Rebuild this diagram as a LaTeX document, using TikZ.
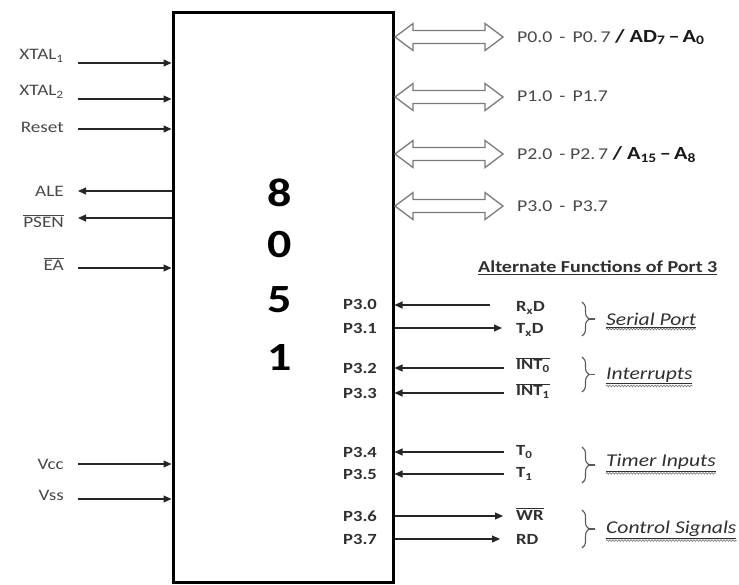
\documentclass[tikz,border=0pt]{standalone}
\usepackage{fontspec}
\setmainfont{Carlito}[FakeStretch=1.2]
\usetikzlibrary{arrows.meta,decorations.pathreplacing,decorations.pathmorphing}
\definecolor{lblgray}{HTML}{484848}
\definecolor{darktxt}{HTML}{303030}
\definecolor{arrgray}{HTML}{7A7A7A}
\begin{document}
\begin{tikzpicture}[x=1pt,y=-1pt,
  lbl/.style={inner sep=0pt, text=lblgray, font=\fontsize{16}{18}\selectfont},
  plbl/.style={inner sep=0pt, text=darktxt, font=\bfseries\fontsize{15.5}{18}\selectfont},
  portlbl/.style={inner sep=0pt, text=lblgray, font=\fontsize{16.5}{19}\selectfont},
  digit/.style={inner sep=0pt, text=black, font=\bfseries\fontsize{40}{44}\selectfont},
  titlelbl/.style={inner sep=0pt, text=darktxt, font=\bfseries\fontsize{16.7}{18}\selectfont},
  ital/.style={inner sep=0pt, text=darktxt, font=\itshape\fontsize{18}{20}\selectfont},
  conn/.style={draw=black!85, line width=1.1pt},
  tipped/.style={-{Triangle[length=8pt,width=7pt]}},
  bracestyle/.style={draw=black!65, line width=1.1pt, decorate, decoration={brace, amplitude=7pt}},
  wavy/.style={draw=black!55, line width=0.6pt, decorate, decoration={snake, amplitude=0.9pt, segment length=3pt}},
  dblarrow/.pic={\draw[arrgray, line width=1.3pt, line join=miter]
    (0,0) -- (18,-13.5) -- (18,-6.5) -- (90,-6.5) -- (90,-13.5) -- (108,0)
    -- (90,13.5) -- (90,6.5) -- (18,6.5) -- (18,13.5) -- cycle;}
]
\useasboundingbox (0,0) rectangle (739,584);

% chip
\node[draw, line width=3pt, minimum width=220pt, minimum height=570pt, inner sep=0pt] (chip) at (283,297) {};
\node[digit] (d8) at (280,193) {8};
\node[digit] (d0) at (280,245) {0};
\node[digit] (d5) at (280,300) {5};
\node[digit] (d1) at (280,358) {1};

% left side
\coordinate (lx1) at (78,63);
\coordinate (lx2) at (78,99);
\coordinate (lrs) at (78,129);
\coordinate (lale) at (78,191);
\coordinate (lps) at (78,218);
\coordinate (lea) at (78,268);
\coordinate (lvcc) at (78,464);
\coordinate (lvss) at (78,499);
\draw[conn,tipped] (lx1) -- (lx1 -| chip.west);
\draw[conn,tipped] (lx2) -- (lx2 -| chip.west);
\draw[conn,tipped] (lrs) -- (lrs -| chip.west);
\draw[conn,tipped] (lale -| chip.west) -- (lale);
\draw[conn,tipped] (lps -| chip.west) -- (lps);
\draw[conn,tipped] (lea) -- (lea -| chip.west);
\draw[conn,tipped] (lvcc) -- (lvcc -| chip.west);
\draw[conn,tipped] (lvss) -- (lvss -| chip.west);

\node[lbl, anchor=east] (txtal1) at (64,56) {XTAL\textsubscript{1}};
\node[lbl, anchor=east] (txtal2) at (64,92) {XTAL\textsubscript{2}};
\node[lbl, anchor=east] (treset) at (64,127) {Reset};
\node[lbl, anchor=east] (tale) at (64,191) {ALE};
\node[lbl, anchor=east] (tpsen) at (64,221) {$\overline{\mbox{PSEN}}$};
\node[lbl, anchor=east] (tea) at (64,264) {$\overline{\mbox{EA}}$};
\node[lbl, anchor=east] (tvcc) at (64,464) {Vcc};
\node[lbl, anchor=east] (tvss) at (64,495) {Vss};

% ports
\pic (pa0) at (395,37) {dblarrow};
\pic (pa1) at (395,97) {dblarrow};
\pic (pa2) at (395,154) {dblarrow};
\pic (pa3) at (395,206) {dblarrow};
\node[portlbl, anchor=west] (tp0) at (517,37) {P0.0\hspace{7pt}-\hspace{7pt}P0.\,7 {\color{black!90}\bfseries\fontsize{18.5}{22}\selectfont/ AD\textsubscript{7}\,–\,A\textsubscript{0}}};
\node[portlbl, anchor=west] (tp1) at (517,96) {P1.0\hspace{7pt}-\hspace{7pt}P1.7};
\node[portlbl, anchor=west] (tp2) at (517,155) {P2.0\hspace{7pt}- P2.\,7 {\color{black!90}\bfseries\fontsize{18.5}{22}\selectfont/ A\textsubscript{15}\,–\,A\textsubscript{8}}};
\node[portlbl, anchor=west] (tp3) at (517,206) {P3.0\hspace{7pt}-\hspace{7pt}P3.7};

% port 3 alternate functions
\node[titlelbl, anchor=west] (talt) at (478,268) {\underline{Alternate Functions of Port 3}};

\node[plbl, anchor=west] (q0) at (343,304) {P3.0};
\node[plbl, anchor=west] (q1) at (343,328) {P3.1};
\node[plbl, anchor=west] (q2) at (343,368) {P3.2};
\node[plbl, anchor=west] (q3) at (343,393) {P3.3};
\node[plbl, anchor=west] (q4) at (343,452) {P3.4};
\node[plbl, anchor=west] (q5) at (343,474) {P3.5};
\node[plbl, anchor=west] (q6) at (343,516) {P3.6};
\node[plbl, anchor=west] (q7) at (343,539) {P3.7};

\coordinate (r0) at (490,305);
\coordinate (r1) at (502,328);
\coordinate (r2) at (504,368);
\coordinate (r3) at (504,393);
\coordinate (r4) at (504,452);
\coordinate (r5) at (504,474);
\coordinate (r6) at (503,516);
\coordinate (r7) at (500,539);
\draw[conn,tipped] (r0) -- (r0 -| chip.east);
\draw[conn,tipped] (r1 -| chip.east) -- (r1);
\draw[conn,tipped] (r2) -- (r2 -| chip.east);
\draw[conn,tipped] (r3) -- (r3 -| chip.east);
\draw[conn,tipped] (r4) -- (r4 -| chip.east);
\draw[conn,tipped] (r5) -- (r5 -| chip.east);
\draw[conn,tipped] (r6 -| chip.east) -- (r6);
\draw[conn,tipped] (r7 -| chip.east) -- (r7);

\node[plbl, anchor=west] (frxd) at (516,308) {R\textsubscript{x}D};
\node[plbl, anchor=west] (ftxd) at (516,330) {T\textsubscript{x}D};
\node[plbl, anchor=west] (fint0) at (516,365) {$\overline{\mbox{INT\textsubscript{0}}}$};
\node[plbl, anchor=west] (fint1) at (516,391) {$\overline{\mbox{INT\textsubscript{1}}}$};
\node[plbl, anchor=west] (ft0) at (516,452) {T\textsubscript{0}};
\node[plbl, anchor=west] (ft1) at (516,474) {T\textsubscript{1}};
\node[plbl, anchor=west] (fwr) at (516,514) {$\overline{\mbox{WR}}$};
\node[plbl, anchor=west] (frd) at (516,539) {RD};

% braces and groups
\draw[bracestyle] (582,302) -- (582,336) coordinate[midway, xshift=7pt] (b1tip);
\draw[bracestyle] (582,357) -- (582,392) coordinate[midway, xshift=7pt] (b2tip);
\draw[bracestyle] (582,447) -- (582,483) coordinate[midway, xshift=7pt] (b3tip);
\draw[bracestyle] (582,510) -- (582,548) coordinate[midway, xshift=7pt] (b4tip);

\node[ital, anchor=west] (gsp) at (606,320) {\underline{Serial Port}};
\node[ital, anchor=west] (gint) at (606,376) {\underline{Interrupts}};
\node[ital, anchor=west] (gtim) at (606,463) {\underline{Timer Inputs}};
\node[ital, anchor=west] (gctl) at (606,530) {\underline{Control Signals}};

\draw[black!65, line width=1.1pt] (b1tip) -- ++(6,0);
\draw[black!65, line width=1.1pt] (b2tip) -- ++(6,0);
\draw[black!65, line width=1.1pt] (b3tip) -- ++(6,0);
\draw[black!65, line width=1.1pt] (b4tip) -- ++(6,0);

\draw[wavy] ([yshift=-1.5pt]gsp.south west) -- ([yshift=-1.5pt]gsp.south east);
\draw[wavy] ([yshift=-1.5pt]gint.south west) -- ([yshift=-1.5pt]gint.south east);
\draw[wavy] ([yshift=-1.5pt]gtim.south west) -- ([yshift=-1.5pt]gtim.south east);
\draw[wavy] ([yshift=-1.5pt]gctl.south west) -- ([yshift=-1.5pt]gctl.south east);
\end{tikzpicture}
\end{document}
